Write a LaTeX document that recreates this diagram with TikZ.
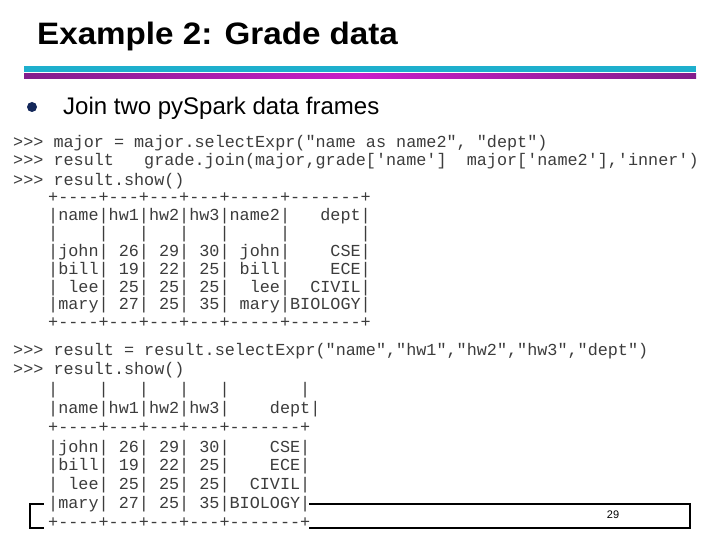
\documentclass[tikz,border=0pt]{standalone}
\usepackage{fontspec}
\setmainfont{Liberation Sans}
\setmonofont{Liberation Mono}
\definecolor{cyanl}{RGB}{30,175,205}
\definecolor{magl}{RGB}{200,30,200}
\definecolor{purl}{RGB}{130,30,140}
\definecolor{navy}{RGB}{20,40,90}
\definecolor{codec}{RGB}{60,60,60}
\begin{document}
\begin{tikzpicture}[x=1pt,y=1pt,
  code/.style={anchor=west,inner sep=0pt,text=codec,font=\ttfamily\fontsize{16.8}{18}\selectfont}]
\useasboundingbox (0,0) rectangle (720,-540);
\fill[white] (0,0) rectangle (720,-540);
\node[anchor=base west,inner sep=0pt,font=\bfseries\fontsize{31}{34}\selectfont,xscale=1.07] (title) at (37,-45) {Example 2: Grade data};
\fill[cyanl] (24,-66) rectangle (696,-72);
\shade[left color=purl,right color=purl,middle color=magl] (24,-74) rectangle (696,-79);
\fill[navy] (32,-107) circle (5);
\node[anchor=base west,inner sep=0pt,font=\fontsize{24}{28}\selectfont] (bul) at (63,-115) {Join two pySpark data frames};
% footer box
\draw[line width=2.5pt] (30,-504) rectangle (690,-528);
\node[font=\fontsize{11}{13}\selectfont] (pg) at (613,-515) {29};
\fill[white] (44,-500) rectangle (309,-533);
% code
\node[code] (c1) at (13,-143) {>{}>{}>~major~=~major.selectExpr("name~as~name2",~"dept")};
\node[code] (c2) at (13,-161) {>{}>{}>~result~~~grade.join(major,grade['name']~~major['name2'],'inner')};
\node[code] (c3) at (13,-181) {>{}>{}>~result.show()};
\node[code] (t1) at (48,-198) {+-{}-{}-{}-+-{}-{}-+-{}-{}-+-{}-{}-+-{}-{}-{}-{}-+-{}-{}-{}-{}-{}-{}-+};
\node[code] (t2) at (48,-216) {|name|hw1|hw2|hw3|name2|~~~dept|};
\node[code] (t3) at (48,-234) {|~~~~|~~~|~~~|~~~|~~~~~|~~~~~~~|};
\node[code] (t4) at (48,-252) {|john|~26|~29|~30|~john|~~~~CSE|};
\node[code] (t5) at (48,-270) {|bill|~19|~22|~25|~bill|~~~~ECE|};
\node[code] (t6) at (48,-288) {|~lee|~25|~25|~25|~~lee|~~CIVIL|};
\node[code] (t7) at (48,-305) {|mary|~27|~25|~35|~mary|BIOLOGY|};
\node[code] (t8) at (48,-323) {+-{}-{}-{}-+-{}-{}-+-{}-{}-+-{}-{}-+-{}-{}-{}-{}-+-{}-{}-{}-{}-{}-{}-+};
\node[code] (c4) at (13,-351) {>{}>{}>~result~=~result.selectExpr("name","hw1","hw2","hw3","dept")};
\node[code] (c5) at (13,-370) {>{}>{}>~result.show()};
\node[code] (u1) at (48,-390) {|~~~~|~~~|~~~|~~~|~~~~~~~|};
\node[code] (u2) at (48,-409) {|name|hw1|hw2|hw3|~~~~dept|};
\node[code] (u3) at (48,-428) {+-{}-{}-{}-+-{}-{}-+-{}-{}-+-{}-{}-+-{}-{}-{}-{}-{}-{}-+};
\node[code] (u4) at (48,-448) {|john|~26|~29|~30|~~~~CSE|};
\node[code] (u5) at (48,-466) {|bill|~19|~22|~25|~~~~ECE|};
\node[code] (u6) at (48,-485) {|~lee|~25|~25|~25|~~CIVIL|};
\node[code] (u7) at (48,-504) {|mary|~27|~25|~35|BIOLOGY|};
\node[code] (u8) at (48,-523) {+-{}-{}-{}-+-{}-{}-+-{}-{}-+-{}-{}-+-{}-{}-{}-{}-{}-{}-+};
\end{tikzpicture}
\end{document}
